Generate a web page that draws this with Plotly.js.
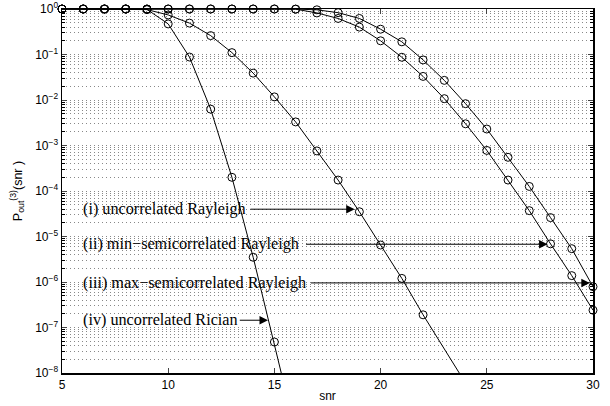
<!DOCTYPE html>
<html>
<head>
<meta charset="utf-8">
<script src="https://cdn.plot.ly/plotly-3.0.1.min.js"></script>
<style>html,body{margin:0;padding:0;background:#fff;}#chart{width:610px;height:406px;}</style>
</head>
<body>
<div id="chart"></div>
<script>
// ---- data ----
const snrRician = [5,6,7,8,9,10,11,12,13,14,15];
const pRician   = [1,1,1,1,0.98,0.47,0.088,0.0063,2.0e-4,3.5e-6,4.8e-8];
const snrRicianLine = [5,6,7,8,9,10,11,12,13,14,15,16];
const pRicianLine   = [1,1,1,1,0.98,0.47,0.088,0.0063,2.0e-4,3.5e-6,4.8e-8,5e-10];

const snrUncRay = [5,6,7,8,9,10,11,12,13,14,15,16,17,18,19,20,21,22];
const pUncRay   = [1,1,1,1,0.97,0.74,0.49,0.26,0.11,0.039,0.0117,0.0033,7.6e-4,1.74e-4,3.5e-5,6.5e-6,1.2e-6,1.9e-7];
const snrUncRayLine = [5,6,7,8,9,10,11,12,13,14,15,16,17,18,19,20,21,22,23,24];
const pUncRayLine   = [1,1,1,1,0.97,0.74,0.49,0.26,0.11,0.039,0.0117,0.0033,7.6e-4,1.74e-4,3.5e-5,6.5e-6,1.2e-6,1.9e-7,3.4e-8,6e-9];

const snrSemi = [5,6,7,8,9,10,11,12,13,14,15,16,17,18,19,20,21,22,23,24,25,26,27,28,29,30];
const pMinSemi = [1,1,1,1,1,1,1,1,1,1,1,0.99,0.82,0.62,0.40,0.20,0.087,0.033,0.0107,0.003,7.8e-4,1.74e-4,3.7e-5,6.9e-6,1.38e-6,2.4e-7];
const pMaxSemi = [1,1,1,1,1,1,1,1,1,1,1,0.995,0.96,0.83,0.62,0.36,0.19,0.076,0.027,0.0083,0.0023,5.5e-4,1.26e-4,2.6e-5,5.4e-6,7.9e-7];

const xTicks = [5,10,15,20,25,30];
const yDecades = [-8,-7,-6,-5,-4,-3,-2,-1,0];
const labels = ["(i) uncorrelated Rayleigh","(ii) min\u2212semicorrelated Rayleigh","(iii) max\u2212semicorrelated Rayleigh","(iv) uncorrelated Rician"];

// ---- traces ----
const lineStyle = {color:'#000', width:1};
const markerStyle = {symbol:'circle-open', size:8, color:'#000', line:{color:'#000', width:1}};
function lineTrace(x,y){return {x:x,y:y,mode:'lines',line:lineStyle,showlegend:false,hoverinfo:'skip',cliponaxis:true};}
function markTrace(x,y){return {x:x,y:y,mode:'markers',marker:markerStyle,showlegend:false,cliponaxis:false};}
const data = [
  lineTrace(snrRicianLine,pRicianLine), markTrace(snrRician,pRician),
  lineTrace(snrUncRayLine,pUncRayLine), markTrace(snrUncRay,pUncRay),
  lineTrace(snrSemi,pMinSemi), markTrace(snrSemi,pMinSemi),
  lineTrace(snrSemi,pMaxSemi), markTrace(snrSemi,pMaxSemi)
];

const yTickVals = yDecades.map(d=>Math.pow(10,d));
const yTickText = yDecades.map(d=>'10<sup>'+(d<0?'\u2212'+(-d):d)+'</sup>');
const yMinor = [];
for(let d=-8; d<0; d++){ for(let m=2;m<=9;m++){ yMinor.push(m*Math.pow(10,d)); } }

// ---- annotations (label text + arrows) ----
const serif = {family:'Liberation Serif, Times New Roman, serif', size:16.2, color:'#000'};
const textY = [-4.40,-5.17,-6.02,-6.84];
const tailX = [13.80,16.42,16.65,13.30];
const tipX  = [18.78,27.86,29.85,14.70];
const annotations = [];
for(let i=0;i<4;i++){
  annotations.push({x:5.88, y:textY[i], xref:'x', yref:'y', text:labels[i], showarrow:false,
    xanchor:'left', yanchor:'middle', font:serif});
  annotations.push({x:tipX[i], y:textY[i], xref:'x', yref:'y', ax:tailX[i], ay:textY[i],
    axref:'x', ayref:'y', text:'', showarrow:true, arrowhead:2, arrowsize:1.7, arrowwidth:1,
    arrowcolor:'#000'});
}

const tickFont = {family:'Liberation Sans, Arial, Helvetica, sans-serif', size:12, color:'#000'};
const layout = {
  width:610, height:406,
  margin:{l:62, r:17, t:9, b:33},
  paper_bgcolor:'#fff', plot_bgcolor:'#fff',
  showlegend:false,
  xaxis:{range:[5,30], tickmode:'array', tickvals:xTicks, ticks:'inside', ticklen:5,
    showline:true, linecolor:'#000', linewidth:1.5, mirror:'ticks', showgrid:false,
    zeroline:false, tickfont:tickFont,
    title:{text:'snr', font:{family:'Liberation Sans, Arial, sans-serif', size:12, color:'#000'}, standoff:0}},
  yaxis:{type:'log', range:[-8,0], tickmode:'array', tickvals:yTickVals, ticktext:yTickText,
    ticks:'inside', ticklen:5, showline:true, linecolor:'#000', linewidth:1.5, mirror:'ticks',
    showgrid:true, gridcolor:'#888', griddash:'1px,3px', gridwidth:1, zeroline:false,
    tickfont:tickFont,
    minor:{tickmode:'array', tickvals:yMinor, ticks:'inside', ticklen:3, tickcolor:'#000',
      showgrid:true, gridcolor:'#888', griddash:'1px,3px', gridwidth:1},
    title:{text:'P<sub>out</sub><sup>(3)</sup>(snr )', font:{family:'Liberation Sans, Arial, sans-serif', size:12.5, color:'#000'}, standoff:10}},
  annotations:annotations
};
Plotly.newPlot('chart', data, layout, {staticPlot:true, displayModeBar:false});
</script>
</body>
</html>
